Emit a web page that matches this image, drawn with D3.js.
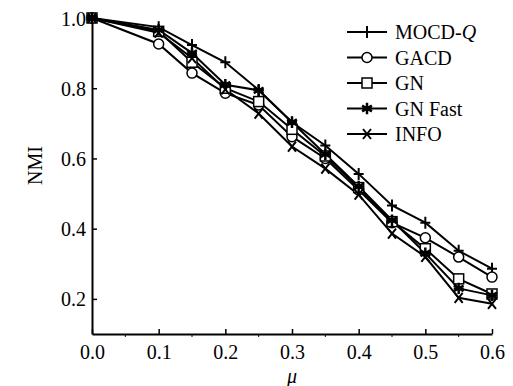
<!DOCTYPE html>
<html>
<head>
<meta charset="utf-8">
<script src="https://cdn.jsdelivr.net/npm/d3@7"></script>
<style>
  body { margin: 0; background: #fff; }
  text { font-family: "Liberation Serif", "Times New Roman", serif; }
</style>
</head>
<body>
<div class="canvas"></div>
<script>
// data
const mu = [0.0, 0.1, 0.15, 0.2, 0.25, 0.3, 0.35, 0.4, 0.45, 0.5, 0.55, 0.6];
const mocdQ  = [1.0, 0.974, 0.923, 0.874, 0.795, 0.703, 0.637, 0.556, 0.466, 0.417, 0.337, 0.286];
const gacd   = [1.0, 0.926, 0.843, 0.786, 0.752, 0.662, 0.600, 0.510, 0.417, 0.374, 0.319, 0.262];
const gn     = [1.0, 0.962, 0.874, 0.800, 0.762, 0.683, 0.607, 0.517, 0.420, 0.343, 0.257, 0.214];
const gnFast = [1.0, 0.966, 0.900, 0.810, 0.794, 0.703, 0.612, 0.520, 0.424, 0.330, 0.230, 0.210];
const info   = [1.0, 0.958, 0.886, 0.797, 0.728, 0.634, 0.571, 0.497, 0.386, 0.320, 0.203, 0.186];
const seriesNames = ['MOCD-Q', 'GACD', 'GN', 'GN Fast', 'INFO'];
const seriesSymbols = ['plus', 'circle', 'square', 'asterisk', 'cross'];
const xTicks = [0.0, 0.1, 0.2, 0.3, 0.4, 0.5, 0.6];
const yTicks = [0.2, 0.4, 0.6, 0.8, 1.0];

const series = [mocdQ, gacd, gn, gnFast, info].map((vals, k) => ({
  name: seriesNames[k],
  symbol: seriesSymbols[k],
  values: vals.map((v, i) => ({x: mu[i], y: v}))
}));

const width = 513, height = 386;
const svg = d3.select('.canvas')
  .append('svg')
    .attr('width', width)
    .attr('height', height);

const x = d3.scaleLinear().domain([0, 0.6]).range([92, 492]);
const y = d3.scaleLinear().domain([0.1, 1.0]).range([334, 18]);

// axes
const xAxis = svg.append('g')
  .attr('transform', `translate(0,${y(0.1)})`)
  .call(d3.axisBottom(x).tickValues(xTicks).tickFormat(d3.format('.1f'))
    .tickSizeInner(-5).tickSizeOuter(0).tickPadding(11));
const yAxis = svg.append('g')
  .attr('transform', `translate(${x(0)},0)`)
  .call(d3.axisLeft(y).tickValues(yTicks).tickFormat(d3.format('.1f'))
    .tickSizeInner(-5).tickSizeOuter(0).tickPadding(6));

// minor ticks under the x axis
svg.append('g')
  .selectAll('line')
  .data([0.05, 0.15, 0.25, 0.35, 0.45, 0.55])
  .join('line')
    .attr('x1', d => x(d)).attr('x2', d => x(d))
    .attr('y1', y(0.1)).attr('y2', y(0.1) + 3)
    .attr('stroke', '#000').attr('stroke-width', 1);

[xAxis, yAxis].forEach(a => {
  a.select('.domain').attr('stroke', '#000').attr('stroke-width', 2);
  a.selectAll('.tick line').attr('stroke', '#000').attr('stroke-width', 1.5);
  a.selectAll('.tick text').attr('font-size', 20).attr('fill', '#000')
    .style('font-family', '"Liberation Serif", serif');
});
yAxis.selectAll('.tick text').attr('dy', '0.35em');

// axis titles
svg.append('text')
  .attr('x', x(0.3)).attr('y', 383)
  .attr('text-anchor', 'middle')
  .attr('font-size', 20).attr('font-style', 'italic')
  .text('μ');
svg.append('text')
  .attr('transform', `translate(42,${y(0.58)}) rotate(-90)`)
  .attr('text-anchor', 'middle')
  .attr('font-size', 20)
  .text('NMI');

// markers
function drawSymbol(g, type) {
  const s = 5;
  if (type === 'plus') {
    g.append('path').attr('d', `M${-s},0H${s}M0,${-s - 1}V${s + 1}`)
      .attr('stroke', '#000').attr('stroke-width', 2).attr('fill', 'none');
  } else if (type === 'circle') {
    g.append('circle').attr('r', 5)
      .attr('stroke', '#000').attr('stroke-width', 1.5).attr('fill', '#fff');
  } else if (type === 'square') {
    g.append('rect').attr('x', -5).attr('y', -5).attr('width', 10).attr('height', 10)
      .attr('stroke', '#000').attr('stroke-width', 1.5).attr('fill', '#fff');
  } else if (type === 'asterisk') {
    g.append('path')
      .attr('d', d3.symbol().type(d3.symbolAsterisk).size(90)())
      .attr('stroke', '#000').attr('stroke-width', 2.5).attr('fill', 'none');
    g.append('path')
      .attr('d', `M${-s},0H${s}`)
      .attr('stroke', '#000').attr('stroke-width', 2);
  } else if (type === 'cross') {
    g.append('path').attr('d', `M${-4},${-5}L4,5M4,${-5}L-4,5`)
      .attr('stroke', '#000').attr('stroke-width', 2).attr('fill', 'none');
  }
}

const line = d3.line().x(d => x(d.x)).y(d => y(d.y));

const plot = svg.append('g');
series.forEach(s => {
  plot.append('path')
    .datum(s.values)
    .attr('d', line)
    .attr('fill', 'none')
    .attr('stroke', '#000')
    .attr('stroke-width', 2);
});
series.forEach(s => {
  s.values.forEach(d => {
    const g = plot.append('g').attr('transform', `translate(${x(d.x)},${y(d.y)})`);
    drawSymbol(g, s.symbol);
  });
});

// legend
const legend = svg.append('g');
series.forEach((s, i) => {
  const ly = 32 + i * 25.5;
  legend.append('line')
    .attr('x1', 347).attr('x2', 387).attr('y1', ly).attr('y2', ly)
    .attr('stroke', '#000').attr('stroke-width', 2);
  const g = legend.append('g').attr('transform', `translate(367,${ly})`);
  drawSymbol(g, s.symbol);
  const t = legend.append('text')
    .attr('x', 395).attr('y', ly).attr('dy', '0.35em')
    .attr('font-size', 20);
  if (s.name === 'MOCD-Q') {
    t.append('tspan').text('MOCD-');
    t.append('tspan').attr('font-style', 'italic').text('Q');
  } else {
    t.text(s.name);
  }
});
</script>
</body>
</html>
